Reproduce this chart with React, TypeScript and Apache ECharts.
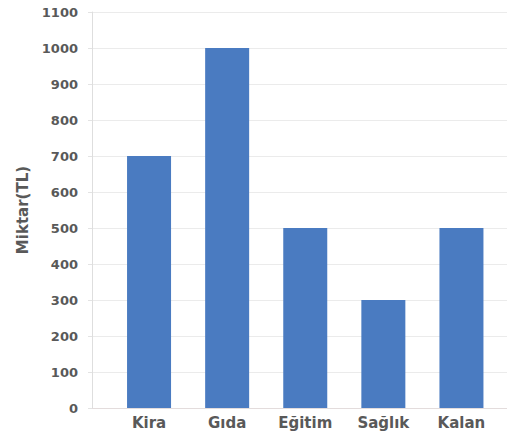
import React, { useEffect, useRef } from "react";
import * as echarts from "echarts";

const categories = ["Kira", "Gıda", "Eğitim", "Sağlık", "Kalan"];
const amounts = [700, 1000, 500, 300, 500];
const yMin = 0;
const yMax = 1100;
const yInterval = 100;
const yAxisName = "Miktar(TL)";

const FONT = "DejaVu Sans, Liberation Sans, Arial, sans-serif";

export default function App() {
  const ref = useRef<HTMLDivElement>(null);
  useEffect(() => {
    if (!ref.current) return;
    const chart = echarts.init(ref.current, null, { renderer: "svg" });
    const textColor = "#595959";
    chart.setOption({
      animation: false,
      backgroundColor: "#ffffff",
      textStyle: { fontFamily: FONT },
      grid: [
        { left: 92, right: 0, top: 12, bottom: 35 },
        { left: 110, right: 6.5, top: 12, bottom: 35 },
      ],
      xAxis: [
        {
          gridIndex: 0,
          type: "value",
          min: 0,
          max: 1,
          axisLine: { show: true, lineStyle: { color: "#e3dcdc", width: 1 } },
          axisTick: { show: false },
          axisLabel: { show: false },
          splitLine: { show: false },
        },
        {
          gridIndex: 1,
          type: "category",
          data: categories,
          axisLine: { show: false },
          axisTick: { show: false },
          axisLabel: {
            color: textColor,
            fontWeight: "bold",
            fontSize: 15,
            margin: 7,
            fontFamily: FONT,
          },
        },
      ],
      yAxis: [
        {
          gridIndex: 0,
          type: "value",
          min: yMin,
          max: yMax,
          interval: yInterval,
          name: yAxisName,
          nameLocation: "middle",
          nameGap: 62,
          nameTextStyle: {
            color: textColor,
            fontWeight: "bold",
            fontSize: 15,
            fontFamily: FONT,
          },
          axisLine: { show: true, lineStyle: { color: "#dedede", width: 1 } },
          axisTick: { show: true, length: 4, lineStyle: { color: "#e3e3e3" } },
          axisLabel: {
            color: textColor,
            fontWeight: "bold",
            fontSize: 13,
            margin: 14,
            fontFamily: FONT,
            formatter: (v: number) => String(v),
          },
          splitLine: { show: true, lineStyle: { color: "#ebebeb", width: 1 } },
        },
        {
          gridIndex: 1,
          type: "value",
          min: yMin,
          max: yMax,
          interval: yInterval,
          show: false,
          splitLine: { show: false },
        },
      ],
      series: [
        {
          type: "bar",
          xAxisIndex: 1,
          yAxisIndex: 1,
          data: amounts,
          barWidth: 44,
          itemStyle: { color: "#4a7bc1" },
        },
      ],
    });
    return () => chart.dispose();
  }, []);
  return <div ref={ref} style={{ width: 507, height: 443, position: "absolute", left: 0, top: 0 }} />;
}
